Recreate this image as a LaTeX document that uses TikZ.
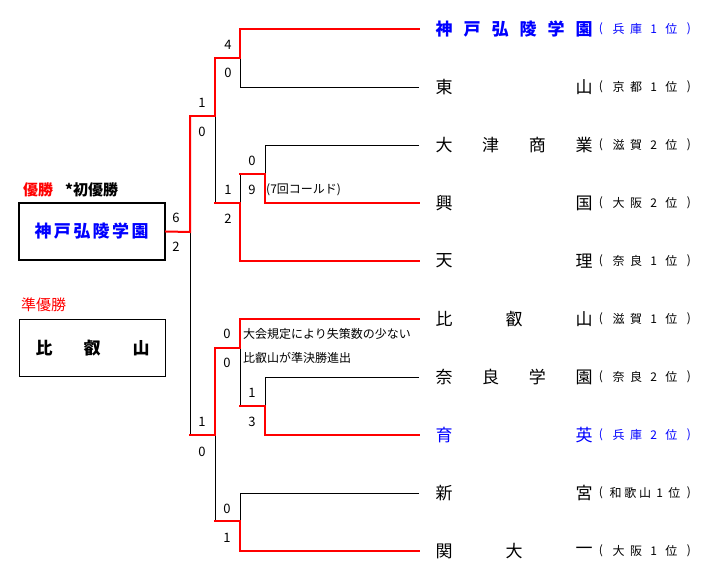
\documentclass[tikz,border=0pt]{standalone}
\usepackage{fontspec}
\setmainfont{Noto Sans CJK JP}
\definecolor{wred}{RGB}{255,0,0}
\definecolor{wblue}{RGB}{0,0,255}
\tikzset{
  win/.style={draw=wred,line width=2pt,line join=miter,line cap=rect},
  lose/.style={draw=black,line width=0.9pt},
  tn/.style={inner sep=0pt,font=\fontsize{17}{17}\selectfont},
  pf/.style={inner sep=0pt,font=\fontsize{12}{12}\selectfont},
  score/.style={inner sep=0pt,font=\fontsize{13}{13}\selectfont},
  note/.style={inner sep=0pt,anchor=west,font=\fontsize{12}{12}\selectfont},
  lbl/.style={inner sep=0pt,anchor=west,font=\fontsize{15}{15}\selectfont},
}
\newcommand\tmname[5]{%
  \foreach \c [count=\i from 0] in {#4} {\node[tn,#5] (tm#1-\i) at ({444+\i*140/(#3-1)},#2) {\c};}}
\newcommand\pfname[5]{%
  \foreach \c [count=\i from 0] in {#4} {\node[pf,#5] (pf#1-\i) at ({601+\i*88/(#3-1)},#2) {\c};}}
\begin{document}
\begin{tikzpicture}[x=1pt,y=-1pt]
\useasboundingbox (0,0) rectangle (712,581);
% team line ends
\coordinate (t1) at (419,29);
\coordinate (t2) at (419,87);
\coordinate (t3) at (419,145);
\coordinate (t4) at (419,203);
\coordinate (t5) at (419,261);
\coordinate (t6) at (419,319);
\coordinate (t7) at (419,377);
\coordinate (t8) at (419,435);
\coordinate (t9) at (419,493);
\coordinate (t10) at (419,551);
% junctions
\coordinate (qA) at (240,58);  \coordinate (sA) at (215,58);
\coordinate (qB) at (265,174); \coordinate (sB) at (240,174);
\coordinate (qC) at (240,203); \coordinate (sC) at (215,203);
\coordinate (qS1) at (215,116); \coordinate (oS1) at (190,116);
\coordinate (qD) at (265,406); \coordinate (sD) at (240,406);
\coordinate (qE) at (240,348); \coordinate (sE) at (215,348);
\coordinate (qF) at (240,521); \coordinate (sF) at (215,521);
\coordinate (qS2) at (215,435); \coordinate (oS2) at (190,435);
\coordinate (qFin) at (190,232);
% boxes
\node[draw,line width=2pt,minimum width=146pt,minimum height=57pt,inner sep=0pt] (champ) at (92,231.5) {};
\node[draw,line width=0.9pt,minimum width=146pt,minimum height=57pt,inner sep=0pt] (runner) at (92.5,348) {};
% losing lines
\draw[lose] (t2) -| (qA);
\draw[lose] (t3) -| (qB);
\draw[lose] (sB) -- (qC);
\draw[lose] (sC) -- (qS1);
\draw[lose] (t7) -| (qD);
\draw[lose] (sD) -- (qE);
\draw[lose] (t9) -| (qF);
\draw[lose] (sF) -- (qS2);
\draw[lose] (oS2) -- (qFin);
% winning lines
\draw[win] (t1) -| (qA) -- (sA);
\draw[win] (t4) -| (qB) -- (sB);
\draw[win] (t5) -| (qC) -- (sC);
\draw[win] (sA) -- (qS1) -- (oS1);
\draw[win] (t8) -| (qD) -- (sD);
\draw[win] (t6) -| (qE) -- (sE);
\draw[win] (t10) -| (qF) -- (sF);
\draw[win] (sE) -- (qS2) -- (oS2);
\draw[win] (oS1) -- (qFin) -- (champ.east);
% team names
\tmname{1}{29}{6}{神,戸,弘,陵,学,園}{wblue,font=\fontsize{17}{17}\selectfont\bfseries}
\tmname{2}{87}{2}{東,山}{}
\tmname{3}{145}{4}{大,津,商,業}{}
\tmname{4}{203}{2}{興,国}{}
\tmname{5}{261}{2}{天,理}{}
\tmname{6}{319}{3}{比,叡,山}{}
\tmname{7}{377}{4}{奈,良,学,園}{}
\tmname{8}{435}{2}{育,英}{wblue}
\tmname{9}{493}{2}{新,宮}{}
\tmname{10}{551}{3}{関,大,一}{}
% prefectures
\pfname{1}{29}{6}{{(},兵,庫,1,位,{)}}{wblue}
\pfname{2}{87}{6}{{(},京,都,1,位,{)}}{}
\pfname{3}{145}{6}{{(},滋,賀,2,位,{)}}{}
\pfname{4}{203}{6}{{(},大,阪,2,位,{)}}{}
\pfname{5}{261}{6}{{(},奈,良,1,位,{)}}{}
\pfname{6}{319}{6}{{(},滋,賀,1,位,{)}}{}
\pfname{7}{377}{6}{{(},奈,良,2,位,{)}}{}
\pfname{8}{435}{6}{{(},兵,庫,2,位,{)}}{wblue}
\pfname{9}{493}{7}{{(},和,歌,山,1,位,{)}}{}
\pfname{10}{551}{6}{{(},大,阪,1,位,{)}}{}
% scores
\node[score] (a1) at (228,45) {4};
\node[score] (a2) at (228,73) {0};
\node[score] (s11) at (202,103) {1};
\node[score] (s12) at (202,132) {0};
\node[score] (b1) at (252,161) {0};
\node[score] (b2) at (252,190) {9};
\node[score] (c1) at (228,190) {1};
\node[score] (c2) at (228,219) {2};
\node[score] (f1) at (176,218) {6};
\node[score] (f2) at (176,247) {2};
\node[score] (e1) at (227,334) {0};
\node[score] (e2) at (227,363) {0};
\node[score] (d1) at (252,393) {1};
\node[score] (d2) at (252,422) {3};
\node[score] (s21) at (202,422) {1};
\node[score] (s22) at (202,452) {0};
\node[score] (g1) at (227,509) {0};
\node[score] (g2) at (227,538) {1};
% notes
\node[note] (cold) at (266,190) {(7回コールド)};
\node[note] (rule1) at (243,334) {大会規定により失策数の少ない};
\node[note] (rule2) at (243,358) {比叡山が準決勝進出};
% left labels
\node[lbl,text=wred,font=\fontsize{15}{15}\selectfont\bfseries] (yusho) at (23,190) {優勝};
\node[lbl,font=\fontsize{15}{15}\selectfont\bfseries] (hatsu) at (65,190) {*初優勝};
\node[lbl,text=wred] (jun) at (21,305) {準優勝};
\foreach \c [count=\i from 0] in {神,戸,弘,陵,学,園}
  \node[tn,text=wblue,font=\fontsize{17}{17}\selectfont\bfseries] (ch\i) at ({43+\i*19.4},231) {\c};
\node[tn,font=\fontsize{17}{17}\selectfont\bfseries] (ru0) at (44,348) {比};
\node[tn,font=\fontsize{17}{17}\selectfont\bfseries] (ru1) at (92,348) {叡};
\node[tn,font=\fontsize{17}{17}\selectfont\bfseries] (ru2) at (141,348) {山};
\end{tikzpicture}
\end{document}
